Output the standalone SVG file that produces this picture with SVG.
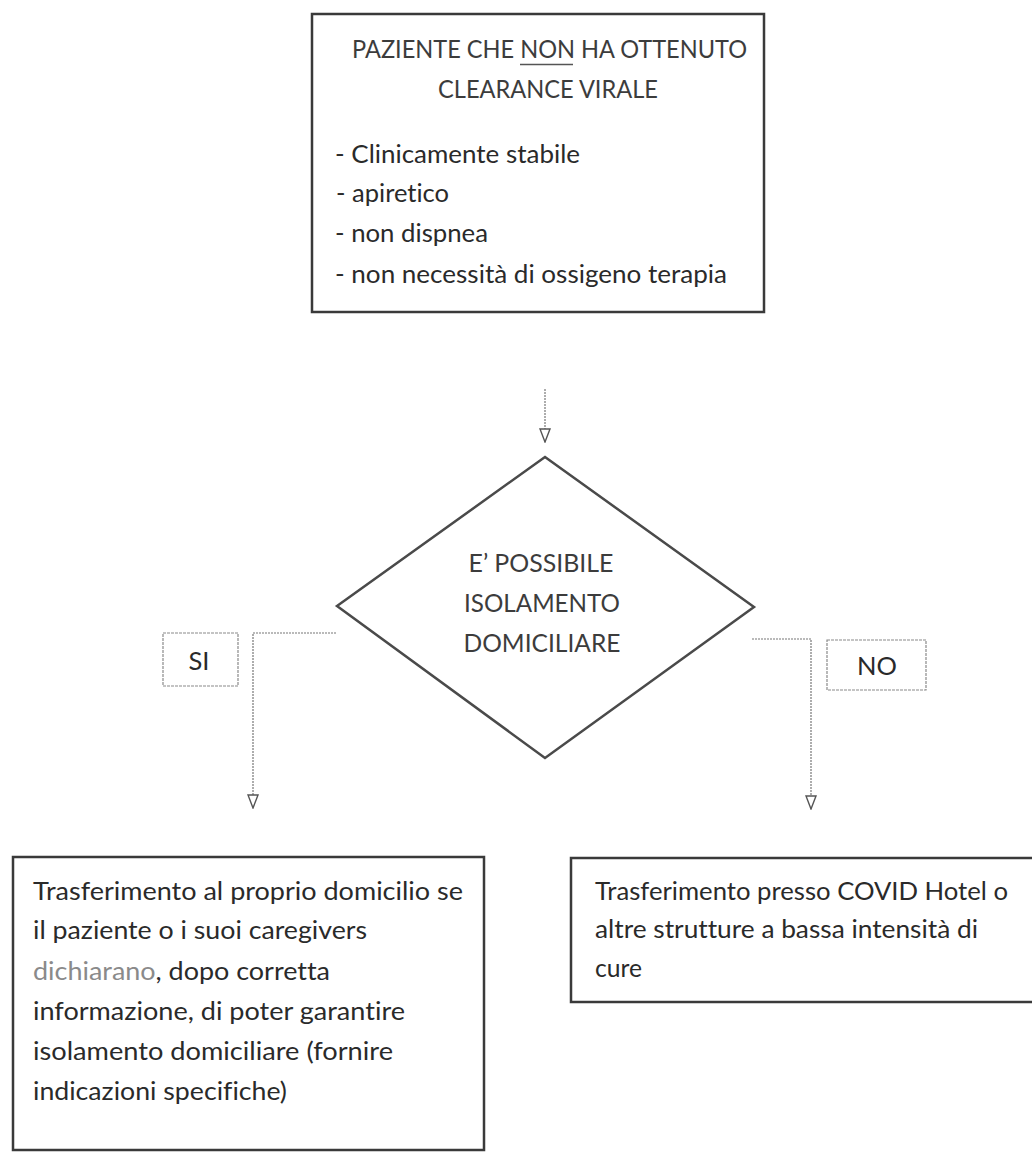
<svg xmlns="http://www.w3.org/2000/svg" width="1032" height="1154" viewBox="0 0 1032 1154">
<style>
.box{fill:#ffffff;stroke:#3a3a3a;stroke-width:2.5}
.dia{fill:#ffffff;stroke:#4a4a4a;stroke-width:2.5}
.lbl{fill:#ffffff;stroke:#8a8a8a;stroke-width:1.2;stroke-dasharray:3 1}
.con{fill:none;stroke:#777777;stroke-width:1.2;stroke-dasharray:2 1}
text{font-family:Lato,"Open Sans","Liberation Sans",sans-serif;font-size:25.5px;fill:#2a2a2a;font-variant-ligatures:none;font-feature-settings:"liga" 0}
.hd{fill:#3c3c3c}
.c{text-anchor:middle}
</style>
<defs>
<marker id="arr" markerWidth="15" markerHeight="12" refX="14" refY="6" orient="auto" markerUnits="userSpaceOnUse" viewBox="0 0 15 12">
<path d="M1,1 L14,6 L1,11 Z" fill="#ffffff" stroke="#555555" stroke-width="1.4"/>
</marker>
</defs>
<rect width="1032" height="1154" fill="#ffffff"/>

<g id="connectors">
<path class="con" d="M545,389 L545,442" marker-end="url(#arr)"/>
<path class="con" d="M336,633 L253,633 L253,808" marker-end="url(#arr)"/>
<path class="con" d="M752,639 L811,639 L811,809" marker-end="url(#arr)"/>
</g>

<g id="start">
<rect class="box" x="312" y="14" width="452" height="298"/>
<text class="hd c" x="549.5" y="58" textLength="395" lengthAdjust="spacingAndGlyphs">PAZIENTE CHE NON HA OTTENUTO</text>
<line x1="520" y1="64.5" x2="573" y2="64.5" stroke="#555" stroke-width="1.5"/>
<text class="hd c" x="548" y="98" textLength="220" lengthAdjust="spacingAndGlyphs">CLEARANCE VIRALE</text>
<text x="335" y="163" textLength="245" lengthAdjust="spacingAndGlyphs">- Clinicamente stabile</text>
<text x="336" y="202" textLength="113" lengthAdjust="spacingAndGlyphs">- apiretico</text>
<text x="335" y="242" textLength="153" lengthAdjust="spacingAndGlyphs">- non dispnea</text>
<text x="335" y="283" textLength="392" lengthAdjust="spacingAndGlyphs">- non necessità di ossigeno terapia</text>
</g>

<g id="decision">
<polygon class="dia" points="545,457 754,607 545,758 337,606"/>
<text class="hd c" x="541" y="572" textLength="145" lengthAdjust="spacingAndGlyphs">E’ POSSIBILE</text>
<text class="hd c" x="542" y="612" textLength="156" lengthAdjust="spacingAndGlyphs">ISOLAMENTO</text>
<text class="hd c" x="542" y="652" textLength="157" lengthAdjust="spacingAndGlyphs">DOMICILIARE</text>
</g>

<g id="label-si">
<rect class="lbl" x="163" y="633" width="75" height="53"/>
<text class="c" x="199" y="670">SI</text>
</g>

<g id="label-no">
<rect class="lbl" x="827" y="640" width="99" height="50"/>
<text class="c" x="877" y="675">NO</text>
</g>

<g id="home">
<rect class="box" x="13" y="857" width="471" height="293"/>
<text x="33" y="900" textLength="430" lengthAdjust="spacingAndGlyphs">Trasferimento al proprio domicilio se</text>
<text x="33" y="939" textLength="334" lengthAdjust="spacingAndGlyphs">il paziente o i suoi caregivers</text>
<text x="33" y="980" textLength="297" lengthAdjust="spacingAndGlyphs"><tspan fill="#8a8a8a">dichiarano</tspan>, dopo corretta</text>
<text x="33" y="1020" textLength="372" lengthAdjust="spacingAndGlyphs">informazione, di poter garantire</text>
<text x="33" y="1060" textLength="360" lengthAdjust="spacingAndGlyphs">isolamento domiciliare (fornire</text>
<text x="33" y="1100" textLength="254" lengthAdjust="spacingAndGlyphs">indicazioni specifiche)</text>
</g>

<g id="hotel">
<rect class="box" x="571" y="858" width="480" height="144"/>
<text x="595" y="900" textLength="413" lengthAdjust="spacingAndGlyphs">Trasferimento presso COVID Hotel o</text>
<text x="595" y="938" textLength="383" lengthAdjust="spacingAndGlyphs">altre strutture a bassa intensità di</text>
<text x="595" y="977" textLength="47" lengthAdjust="spacingAndGlyphs">cure</text>
</g>
</svg>
